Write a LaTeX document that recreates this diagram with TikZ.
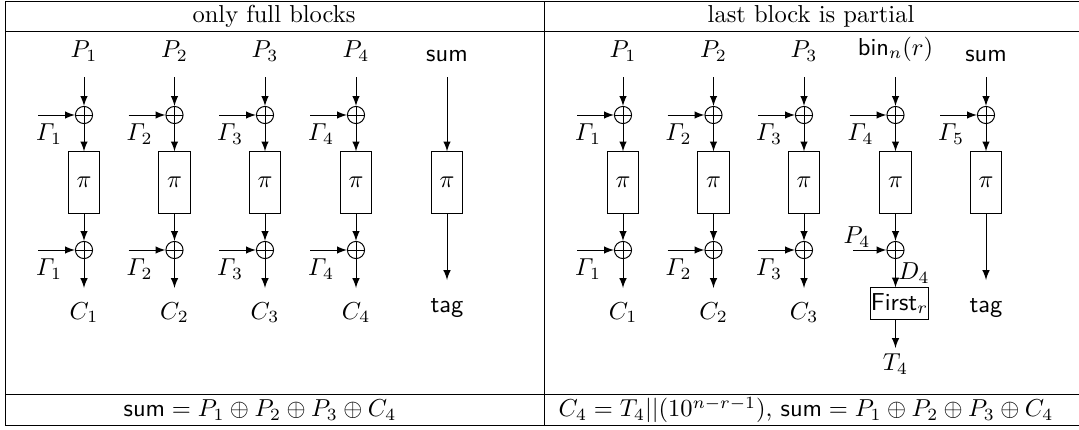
\documentclass[tikz,border=0pt]{standalone}
\usepackage{amsmath}
\usepackage{amssymb}
\usepackage{tikz}
\usetikzlibrary{positioning}
\usetikzlibrary{calc}

\tikzset{
    xorop/.style={draw, circle, inner sep=0pt, minimum size=7pt,
        path picture={\draw (path picture bounding box.north) -- (path picture bounding box.south)
            (path picture bounding box.west) -- (path picture bounding box.east);}},
    permbox/.style={draw, rectangle, inner sep=0pt, minimum width=12.7pt, minimum height=25pt},
}

\begin{document}
\begin{tikzpicture}[x=0.408pt, y=-0.408pt, >=latex]
    \useasboundingbox (0,0) rectangle (1079,429);

    % table rules
    \draw (5,1) -- (1079,1);
    \draw (5,31) -- (1079,31);
    \draw (5,394) -- (1079,394);
    \draw (5,425) -- (1079,425);
    \draw (5,1) -- (5,425);
    \draw (544,1) -- (544,425);

    \node (hfull) at (274,16.5) {only full blocks};
    \node (hpart) at (811,16.5) {last block is partial};
    \node (sfull) at (260,410) {$\textsf{sum} = P_1 \oplus P_2 \oplus P_3 \oplus C_4$};
    \node (spart) at (806,410) {$C_4 = T_4||(10^{n-r-1})$, $\textsf{sum} = P_1 \oplus P_2 \oplus P_3 \oplus C_4$};

    % only full blocks
    \foreach \i/\x in {1/84, 2/174.5, 3/265, 4/356} {
        \coordinate (fin\i) at (\x,77);
        \node [above=1mm of fin\i] (fp\i) {$P_\i$};
        \node [xorop] (fx\i) at (\x,115) {};
        \node [permbox] (fpi\i) at (\x,182.5) {$\pi$};
        \node [xorop] (fy\i) at (\x,250) {};
        \coordinate (fout\i) at (\x,288);
        \node [below=2.4pt of fout\i] (fc\i) {$C_\i$};
        \coordinate (fga\i) at (\x-46,115);
        \coordinate (fgb\i) at (\x-46,250);

        \draw [->] (fin\i) -- (fx\i);
        \draw [->] (fga\i) -- node [pos=0.3, below] (fla\i) {$\varGamma_\i$} (fx\i);
        \draw [->] (fx\i) -- (fpi\i);
        \draw [->] (fpi\i) -- (fy\i);
        \draw [->] (fgb\i) -- node [pos=0.3, below] (flb\i) {$\varGamma_\i$} (fy\i);
        \draw [->] (fy\i) -- (fout\i);
    }

    % sum
    \coordinate (fsin) at (447,77);
    \node [above=1mm of fsin] (fsum) {\textsf{sum}};
    \node [permbox] (fspi) at (447,182.5) {$\pi$};
    \coordinate (fsout) at (447,280);
    \node [below=4pt of fsout] (ftag) {\textsf{tag}};
    \draw [->] (fsin) -- (fspi);
    \draw [->] (fspi) -- (fsout);

    % last block is partial
    \foreach \i/\x in {1/623, 2/713.5, 3/804} {
        \coordinate (pin\i) at (\x,77);
        \node [above=1mm of pin\i] (pp\i) {$P_\i$};
        \node [xorop] (px\i) at (\x,115) {};
        \node [permbox] (ppi\i) at (\x,182.5) {$\pi$};
        \node [xorop] (py\i) at (\x,250) {};
        \coordinate (pout\i) at (\x,288);
        \node [below=2.4pt of pout\i] (pc\i) {$C_\i$};
        \coordinate (pga\i) at (\x-46,115);
        \coordinate (pgb\i) at (\x-46,250);

        \draw [->] (pin\i) -- (px\i);
        \draw [->] (pga\i) -- node [pos=0.3, below] (pla\i) {$\varGamma_\i$} (px\i);
        \draw [->] (px\i) -- (ppi\i);
        \draw [->] (ppi\i) -- (py\i);
        \draw [->] (pgb\i) -- node [pos=0.3, below] (plb\i) {$\varGamma_\i$} (py\i);
        \draw [->] (py\i) -- (pout\i);
    }

    % partial block
    \coordinate (pin4) at (895.5,77);
    \node [above=1mm of pin4] (pbin) {$\textsf{bin}_n(r)$};
    \node [xorop] (px4) at (895.5,115) {};
    \coordinate (pga4) at (849.5,115);
    \node [permbox] (ppi4) at (895.5,182.5) {$\pi$};
    \node [xorop] (py4) at (895.5,250) {};
    \coordinate (pp4) at (853,250);
    \node [draw, inner xsep=0pt, inner ysep=0pt, minimum width=21.6pt, minimum height=12.7pt] (first) at (899.5,303.5) {$\textsf{First}_r$};
    \coordinate (tend) at (895.5,348);
    \node [below=-1.2pt of tend] (lt4) {$T_4$};

    \draw [->] (pin4) -- (px4);
    \draw [->] (pga4) -- node [pos=0.3, below] (pla4) {$\varGamma_4$} (px4);
    \draw [->] (px4) -- (ppi4);
    \draw [->] (ppi4) -- (py4);
    \draw [->] (pp4) -- node [pos=0.12, above, inner sep=1pt] (lp4) {$P_4$} (py4);
    \draw [->] (py4) -- node [right, inner sep=1pt] (ld4) {$D_4$} (py4 |- first.north);
    \draw [->] (py4 |- first.south) -- (tend);

    % sum
    \coordinate (psin) at (986,77);
    \node [above=1mm of psin] (psum) {\textsf{sum}};
    \node [xorop] (px5) at (986,115) {};
    \coordinate (pga5) at (940,115);
    \node [permbox] (ppi5) at (986,182.5) {$\pi$};
    \coordinate (psout) at (986,280);
    \node [below=4pt of psout] (ptag) {\textsf{tag}};
    \draw [->] (psin) -- (px5);
    \draw [->] (pga5) -- node [pos=0.3, below] (pla5) {$\varGamma_5$} (px5);
    \draw [->] (px5) -- (ppi5);
    \draw [->] (ppi5) -- (psout);
\end{tikzpicture}
\end{document}
